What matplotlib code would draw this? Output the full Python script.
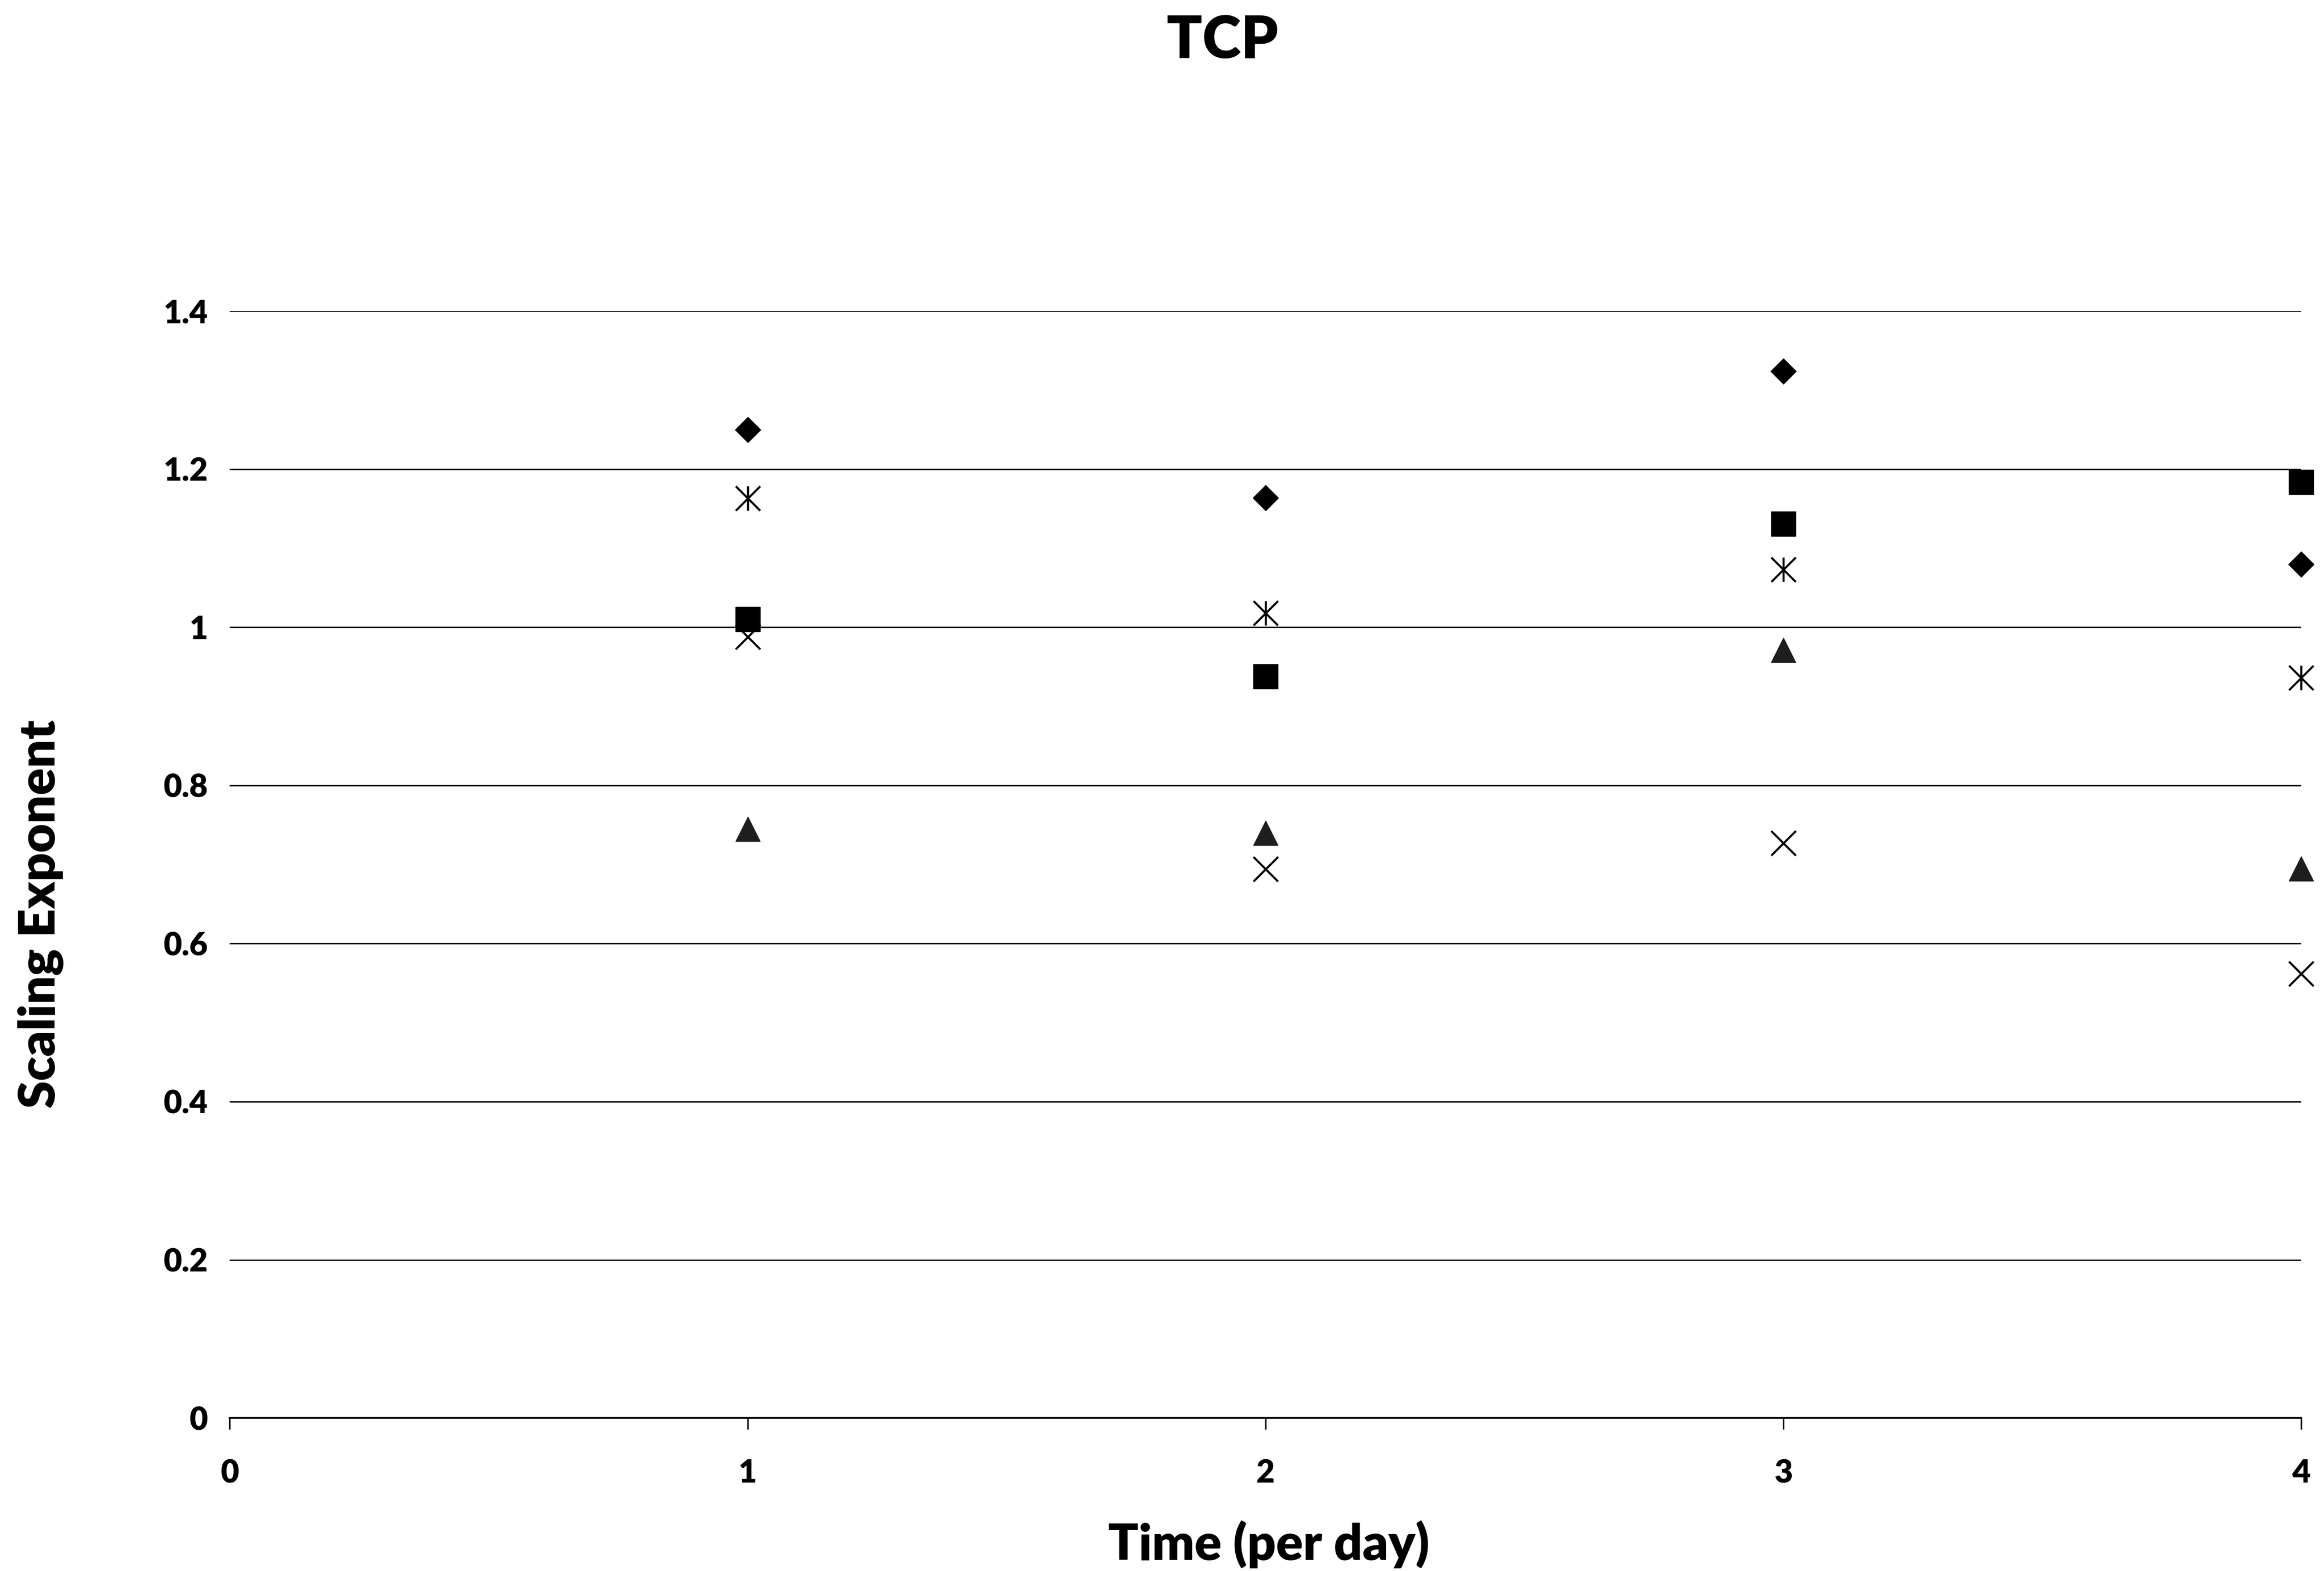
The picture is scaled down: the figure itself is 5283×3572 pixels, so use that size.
import matplotlib
matplotlib.use("Agg")
import matplotlib.pyplot as plt
from matplotlib.path import Path

plt.rcParams['font.family'] = ['Lato', 'DejaVu Sans']

# Time points (days)
days = [1, 2, 3, 4]

# Scaling exponent per series
series_diamond = [1.250, 1.164, 1.324, 1.080]
series_square = [1.010, 0.938, 1.131, 1.184]
series_triangle = [0.745, 0.740, 0.971, 0.695]
series_cross = [0.988, 0.694, 0.727, 0.562]
series_star = [1.163, 1.018, 1.073, 0.936]

x_ticks = [0, 1, 2, 3, 4]
y_ticks = [0, 0.2, 0.4, 0.6, 0.8, 1.0, 1.2, 1.4]
y_tick_labels = ["0", "0.2", "0.4", "0.6", "0.8", "1", "1.2", "1.4"]

# Asterisk marker: an X with a vertical bar through it
star_path = Path(
    [(-1, -1), (1, 1), (-1, 1), (1, -1), (0, -1), (0, 1)],
    [Path.MOVETO, Path.LINETO, Path.MOVETO, Path.LINETO, Path.MOVETO, Path.LINETO],
)

fig = plt.figure(figsize=(52.83, 35.72), dpi=100)
ax = fig.add_axes([0.0989, 0.0974, 0.8913, 0.7046])

ax.set_xlim(0, 4)
ax.set_ylim(0, 1.4)

# Horizontal gridlines
ax.set_yticks(y_ticks)
ax.set_yticklabels(y_tick_labels)
ax.yaxis.grid(True, color="black", linewidth=2.3)
ax.set_axisbelow(True)

ax.set_xticks(x_ticks)
for s in ["top", "right", "left"]:
    ax.spines[s].set_visible(False)
ax.spines["bottom"].set_linewidth(3.0)
ax.spines["bottom"].set_color("black")

ax.tick_params(axis="y", length=0, pad=36, labelsize=52)
ax.tick_params(axis="x", direction="out", length=19, width=2.4, pad=48, labelsize=52)
for lbl in ax.get_xticklabels() + ax.get_yticklabels():
    lbl.set_fontweight("heavy")

common = dict(linestyle="none", clip_on=False, zorder=3)
ax.plot(days, series_cross, marker="x", markersize=40, markeredgewidth=3.4,
        color="black", **common)
ax.plot(days, series_diamond, marker="D", markersize=30, color="black", **common)
ax.plot(days, series_square, marker="s", markersize=41, color="black", **common)
ax.plot(days, series_triangle, marker="^", markersize=40, color="#1e1e1e", **common)
ax.plot(days, series_star, marker=star_path, markersize=40, markeredgewidth=3.4,
        color="black", markerfacecolor="none", **common)

fig.text(0.526, 0.974, "TCP", ha="center", va="center", fontsize=96, fontweight="heavy")
fig.text(0.546, 0.017, "Time (per day)", ha="center", va="center", fontsize=82,
         fontweight="heavy")
fig.text(0.0175, 0.418, "Scaling Exponent", ha="center", va="center", fontsize=82,
         fontweight="heavy", rotation=90)

fig.savefig("out.png", dpi=100, facecolor="white")
